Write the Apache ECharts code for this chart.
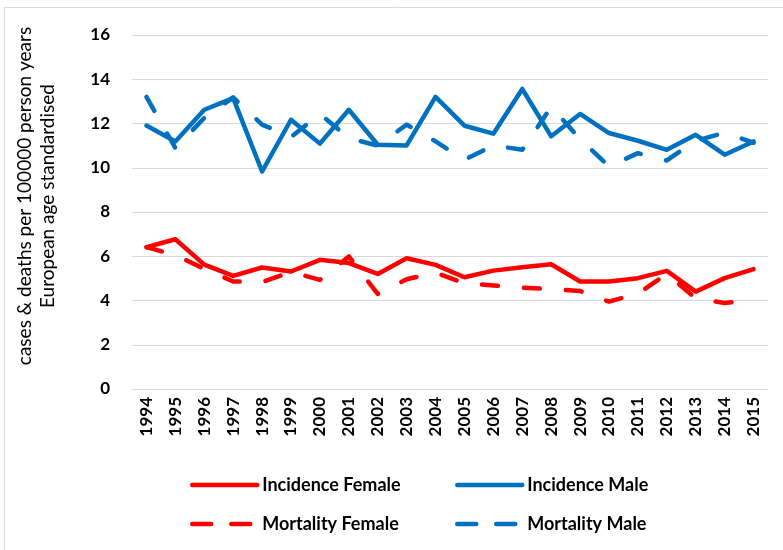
<!DOCTYPE html>
<html>
<head>
<meta charset="utf-8">
<script src="https://cdn.jsdelivr.net/npm/echarts@6/dist/echarts.min.js"></script>
<style>html,body{margin:0;padding:0;background:#fff}#c{width:783px;height:550px}</style>
</head>
<body>
<div id="c"></div>
<script>
const years = ['1994','1995','1996','1997','1998','1999','2000','2001','2002','2003','2004','2005','2006','2007','2008','2009','2010','2011','2012','2013','2014','2015'];
const incidenceFemale = [6.41, 6.77, 5.62, 5.11, 5.49, 5.31, 5.84, 5.69, 5.20, 5.91, 5.61, 5.05, 5.35, 5.50, 5.64, 4.86, 4.86, 5.01, 5.34, 4.40, 5.01, 5.42];
const incidenceMale = [11.91, 11.19, 12.62, 13.15, 9.83, 12.17, 11.09, 12.62, 11.04, 11.01, 13.20, 11.90, 11.54, 13.56, 11.42, 12.43, 11.57, 11.22, 10.81, 11.49, 10.59, 11.19];
const mortalityFemale = [6.41, 6.05, 5.43, 4.86, 4.83, 5.29, 4.93, 5.99, 4.30, 4.96, 5.26, 4.78, 4.68, 4.58, 4.51, 4.43, 3.95, 4.31, 5.20, 4.10, 3.89, 4.00];
const mortalityMale = [13.20, 10.89, 12.25, 13.18, 11.95, 11.39, 12.43, 11.34, 11.00, 11.95, 11.19, 10.36, 11.01, 10.81, 12.75, 11.30, 10.06, 10.66, 10.33, 11.22, 11.58, 11.13];
const yTicks = {min: 0, max: 16, interval: 2};
const yTitle = 'cases & deaths per 100000 person years\nEuropean age standardised';

const FONT = 'Lato, "Open Sans", sans-serif';
const RED = '#FF0000', BLUE = '#0070C0';
const DASH = [16, 26];

const chart = echarts.init(document.getElementById('c'), null, {renderer: 'canvas'});

function mkSeries(name, data, color, dashed, z) {
  return {
    name, type: 'line', data, symbol: 'none', z,
    lineStyle: {color, width: 4.5, type: dashed ? DASH : 'solid', cap: 'round', join: 'round'},
    itemStyle: {color},
    animation: false
  };
}
function mkLegend(name, color, dashed, left, top) {
  return {
    data: [name], left, top, padding: 0, itemWidth: 65, itemHeight: 14, itemGap: 0,
    itemStyle: {opacity: 0},
    lineStyle: {color, width: 4.5, type: dashed ? [19, 20] : 'solid', cap: 'round'},
    textStyle: {fontFamily: FONT, fontWeight: 'bold', fontSize: 18, color: '#000'}
  };
}

chart.setOption({
  backgroundColor: '#fff',
  animation: false,
  grid: {left: 132, right: 15, top: 35, bottom: 161},
  graphic: [
    {type: 'line', shape: {x1: 4, y1: 7.5, x2: 783, y2: 7.5}, style: {stroke: '#d9d9d9', lineWidth: 1}},
    {type: 'line', shape: {x1: 4.5, y1: 7, x2: 4.5, y2: 550}, style: {stroke: '#d9d9d9', lineWidth: 1}},
    {type: 'text', x: 36, y: 196, rotation: Math.PI / 2,
     style: {text: yTitle, fontFamily: FONT, fontSize: 19, fill: '#000', align: 'center', verticalAlign: 'middle', lineHeight: 23}}
  ],
  legend: [
    mkLegend('Incidence Female', RED, false, 190, 476),
    mkLegend('Incidence Male', BLUE, false, 455, 476),
    mkLegend('Mortality Female', RED, true, 190, 515),
    mkLegend('Mortality Male', BLUE, true, 455, 515)
  ],
  xAxis: {
    type: 'category', data: years, boundaryGap: true,
    axisLine: {lineStyle: {color: '#d9d9d9', width: 1}},
    axisTick: {show: false},
    axisLabel: {rotate: 90, margin: 8, color: '#000', fontFamily: FONT, fontWeight: 'bold', fontSize: 17, interval: 0}
  },
  yAxis: {
    type: 'value', min: yTicks.min, max: yTicks.max, interval: yTicks.interval,
    axisLine: {show: false}, axisTick: {show: false},
    splitLine: {lineStyle: {color: '#d9d9d9', width: 1}},
    axisLabel: {margin: 22, color: '#000', fontFamily: FONT, fontWeight: 'bold', fontSize: 17}
  },
  series: [
    mkSeries('Incidence Female', incidenceFemale, RED, false, 3),
    mkSeries('Incidence Male', incidenceMale, BLUE, false, 3),
    mkSeries('Mortality Female', mortalityFemale, RED, true, 2),
    mkSeries('Mortality Male', mortalityMale, BLUE, true, 2)
  ]
});
</script>
</body>
</html>
